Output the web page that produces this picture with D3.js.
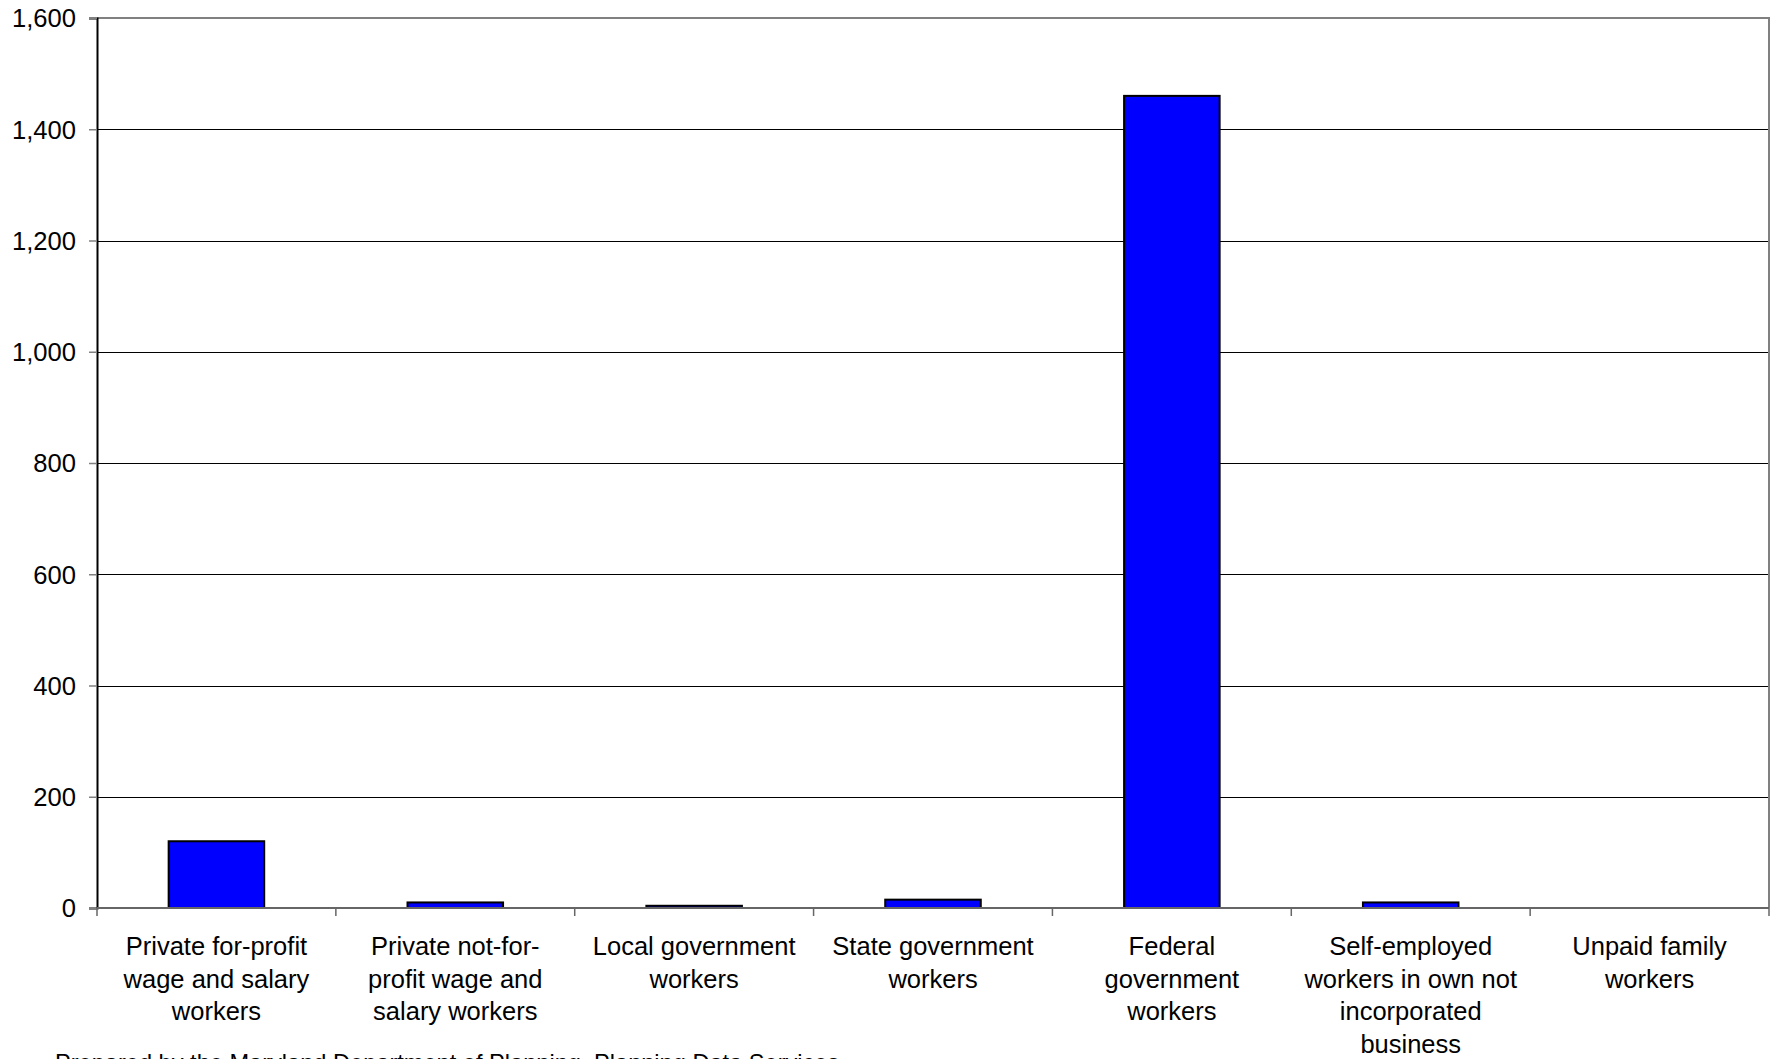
<!DOCTYPE html>
<html>
<head>
<meta charset="utf-8">
<script src="https://cdn.jsdelivr.net/npm/d3@7"></script>
<style>
  html, body { margin: 0; padding: 0; background: #fff; }
  svg { display: block; }
  text { font-family: "Liberation Sans", Arial, sans-serif; fill: #000; }
</style>
</head>
<body>
<script>
const categories = [
  ["Private for-profit", "wage and salary", "workers"],
  ["Private not-for-", "profit wage and", "salary workers"],
  ["Local government", "workers"],
  ["State government", "workers"],
  ["Federal", "government", "workers"],
  ["Self-employed", "workers in own not", "incorporated", "business"],
  ["Unpaid family", "workers"]
];
const values = [120, 10, 4, 15, 1460, 10, 0];
const yTicks = [0, 200, 400, 600, 800, 1000, 1200, 1400, 1600];
const footer = "Prepared by the Maryland Department of Planning, Planning Data Services";

const W = 1774, H = 1059;
const margin = { left: 97, right: 5, top: 18, bottom: 151 };
const plotW = W - margin.left - margin.right;
const plotH = H - margin.top - margin.bottom;

const svg = d3.select("body").append("svg").attr("width", W).attr("height", H);
const g = svg.append("g").attr("transform", `translate(${margin.left},${margin.top})`);

const x = d3.scaleBand().domain(d3.range(categories.length)).range([0, plotW]).paddingInner(0).paddingOuter(0);
const y = d3.scaleLinear().domain([0, 1600]).range([plotH, 0]);

// gridlines
g.append("g").selectAll("line").data(yTicks.filter(d => d > 0 && d < 1600)).join("line")
  .attr("x1", 0).attr("x2", plotW)
  .attr("y1", d => Math.round(y(d)) + 0.5).attr("y2", d => Math.round(y(d)) + 0.5)
  .attr("stroke", "#000").attr("stroke-width", 1);

// plot border top/right
g.append("path")
  .attr("d", `M0,${y(1600)}H${plotW}V${plotH}`)
  .attr("fill", "none").attr("stroke", "#808080").attr("stroke-width", 2);

// bars
const barFrac = 0.40;
g.append("g").selectAll("rect").data(values).join("rect")
  .attr("x", (d, i) => x(i) + x.bandwidth() * (1 - barFrac) / 2)
  .attr("width", x.bandwidth() * barFrac)
  .attr("y", d => y(d))
  .attr("height", d => y(0) - y(d))
  .attr("fill", d => d > 0 ? "#0000ff" : "none")
  .attr("stroke", d => d > 0 ? "#000" : "none")
  .attr("stroke-width", 2);

// y axis
const yAxis = d3.axisLeft(y).tickValues(yTicks).tickSize(8).tickPadding(13)
  .tickFormat(d3.format(","));
const ya = g.append("g").call(yAxis);
ya.select(".domain").attr("stroke", "#000").attr("stroke-width", 2);
ya.selectAll(".tick line").attr("stroke", "#808080").attr("stroke-width", 1.5);
ya.selectAll(".tick text").style("font-size", "25.6px").attr("dy", "0.35em")
  .style("font-family", "'Liberation Sans', Arial, sans-serif").attr("fill", "#000");

// x axis
const xb = g.append("g").attr("transform", `translate(0,${plotH})`);
xb.append("line").attr("x1", 0).attr("x2", plotW).attr("y1", 0).attr("y2", 0)
  .attr("stroke", "#666").attr("stroke-width", 2);
const boundaries = d3.range(categories.length + 1).map(i => i * x.bandwidth());
xb.selectAll("line.tk").data(boundaries).join("line").attr("class", "tk")
  .attr("x1", d => d).attr("x2", d => d).attr("y1", 0).attr("y2", 8)
  .attr("stroke", "#666").attr("stroke-width", 1.5);

const labels = xb.selectAll("text.cat").data(categories).join("text").attr("class", "cat")
  .attr("text-anchor", "middle")
  .attr("transform", (d, i) => `translate(${x(i) + x.bandwidth() / 2},0)`)
  .style("font-size", "25.5px");
labels.selectAll("tspan").data(d => d).join("tspan")
  .attr("x", 0)
  .attr("y", (d, j) => 47 + j * 32.7)
  .text(d => d);

svg.append("text").attr("x", 55).attr("y", 1071).style("font-size", "23.6px").text(footer);
</script>
</body>
</html>
